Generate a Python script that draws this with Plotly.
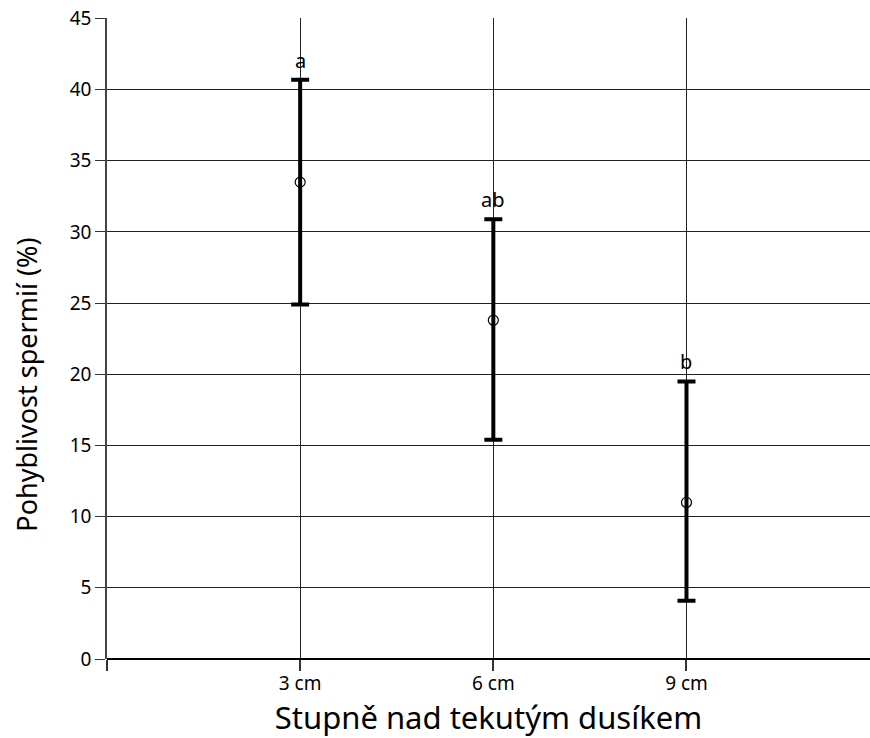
import plotly.graph_objects as go

# Data
distance_cm = [3, 6, 9]
tick_labels = ["3 cm", "6 cm", "9 cm"]
motility_mean = [33.5, 23.8, 11.0]
upper_value = [40.7, 30.9, 19.5]
lower_value = [24.9, 15.4, 4.1]
group_letters = ["a", "ab", "b"]
y_ticks = [0, 5, 10, 15, 20, 25, 30, 35, 40, 45]

err_plus = [u - m for u, m in zip(upper_value, motility_mean)]
err_minus = [m - l for m, l in zip(motility_mean, lower_value)]

FONT = "Noto Sans"

fig = go.Figure()
fig.add_trace(go.Scatter(
    x=distance_cm, y=motility_mean, mode="markers",
    marker=dict(symbol="circle-open", size=10, color="black", line=dict(width=1.2, color="black")),
    error_y=dict(type="data", symmetric=False, array=err_plus, arrayminus=err_minus,
                 color="black", thickness=4, width=9),
    showlegend=False, hoverinfo="skip",
))

for xv, yv, lt in zip(distance_cm, upper_value, group_letters):
    fig.add_annotation(x=xv, y=yv, text=lt, showarrow=False, xanchor="center",
                       yanchor="bottom", yshift=4,
                       font=dict(family=FONT, size=20, color="black"))

# y-axis title (sits a little below the vertical centre in the reference)
fig.add_annotation(xref="paper", yref="paper", x=0, y=0.428, xshift=-80,
                   text="Pohyblivost spermií (%)", textangle=-90, showarrow=False,
                   xanchor="center", yanchor="middle",
                   font=dict(family=FONT, size=27, color="black"))

fig.update_layout(
    width=870, height=738,
    margin=dict(l=107, r=0, t=18, b=79),
    paper_bgcolor="white", plot_bgcolor="white",
    font=dict(family=FONT, color="black"),
    xaxis=dict(
        range=[0, 11.85], tickvals=[0] + distance_cm, ticktext=[""] + tick_labels,
        showgrid=True, gridcolor="#222", gridwidth=1,
        ticks="outside", ticklen=11, tickcolor="#333", tickwidth=1.5,
        showline=False, zeroline=False,
        tickfont=dict(family=FONT, size=19), ticklabelstandoff=-4,
        title=dict(text="Stupně nad tekutým dusíkem", font=dict(family=FONT, size=31), standoff=13),
    ),
    yaxis=dict(
        range=[0, 45.03], tickvals=y_ticks, ticklabeloverflow="allow",
        showgrid=True, gridcolor="#222", gridwidth=1,
        ticks="outside", ticklen=10, tickcolor="#333", tickwidth=1.2,
        showline=True, linecolor="#444", linewidth=1.5,
        zeroline=True, zerolinecolor="black", zerolinewidth=1.5,
        tickfont=dict(family=FONT, size=19),
    ),
)

# remove the default 8px body margin so the figure fills the window exactly
fig.write_html("out.html", config={"displayModeBar": False},
               post_script="document.body.style.margin='0';document.body.style.overflow='hidden';")
